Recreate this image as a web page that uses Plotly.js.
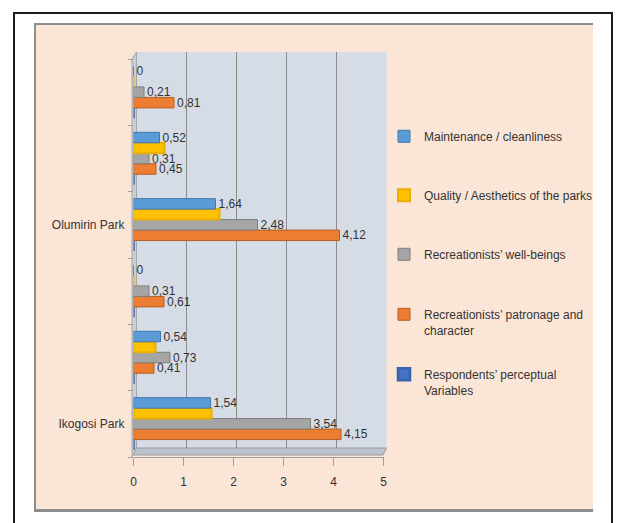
<!DOCTYPE html>
<html>
<head>
<meta charset="utf-8">
<script src="https://cdn.plot.ly/plotly-3.0.1.min.js"></script>
<style>
html,body{margin:0;padding:0;background:#fff;width:617px;height:523px;overflow:hidden}
#frame{position:absolute;left:13px;top:12px;width:596px;height:530px;border:2px solid #1a1a1a;}
#clip{position:absolute;left:34px;top:23px;width:557px;height:484px;overflow:hidden;border-top:2px solid #8e8e8e;border-left:2px solid #8e8e8e;border-bottom:3px solid #8e8e8e;background:#FBE5D6}
#chart{position:absolute;left:-36px;top:-25px;width:617px;height:523px}
</style>
</head>
<body>
<div id="frame"></div>
<div id="clip"><div id="chart"></div></div>
<script>
// ---- data (bottom category first) ----
const categories = ['Ikogosi Park', 'Row 2', 'Row 3', 'Olumirin Park', 'Row 5', 'Row 6'];
const tickLabels = ['Ikogosi Park', '', '', 'Olumirin Park', '', ''];

const maintenance = [1.54, 0.54, 0, 1.64, 0.52, 0];
const quality     = [1.56, 0.44, 0, 1.72, 0.62, 0];
const wellBeings  = [3.54, 0.73, 0.31, 2.48, 0.31, 0.21];
const patronage   = [4.15, 0.41, 0.61, 4.12, 0.45, 0.81];
const respondents = [0, 0, 0, 0, 0, 0];

const xTicks = [0, 1, 2, 3, 4, 5];

// ---- helpers ----
const W = 617, H = 523;
const fx = px => px / W;
const fy = py => (H - py) / H;
const fmt = v => (v === 0 ? '0' : v.toFixed(2).replace('.', ','));
const labels = (arr, show) => arr.map(v => (show ? fmt(v) : ''));

const font = 'Liberation Sans, Arial, sans-serif';
const txtColor = '#333333';

function bar(name, values, color, lineColor, lineW, showLabels, legendId) {
  return {
    type: 'bar', orientation: 'h',
    name: name, x: values, y: categories,
    xaxis: 'x2', yaxis: 'y2',
    marker: {color: color, line: {color: lineColor, width: lineW}},
    text: labels(values, showLabels),
    textposition: 'outside', constraintext: 'none', cliponaxis: false,
    textfont: {family: font, size: 12, color: txtColor},
    hoverinfo: 'none',
    legend: legendId
  };
}

// empty trace so that the back-wall subplot (gridlines) exists
const wall = {type: 'scatter', mode: 'markers', x: [], y: [], xaxis: 'x', yaxis: 'y',
              showlegend: false, hoverinfo: 'none'};

const data = [
  wall,
  bar('Respondents’ perceptual<br>Variables', respondents, '#4472C4', '#3A62AC', 2.5, false, 'legend5'),
  bar('Recreationists’ patronage and<br>character', patronage, '#ED7D31', '#B45F24', 1, true, 'legend4'),
  bar('Recreationists’ well-beings', wellBeings, '#A5A5A5', '#7E7E7E', 1, true, 'legend3'),
  bar('Quality / Aesthetics of the parks', quality, '#FFC000', '#E8AE00', 2, false, 'legend2'),
  bar('Maintenance / cleanliness', maintenance, '#5B9BD5', '#3F79AE', 1, true, 'legend')
];

function leg(py) {
  return {
    x: fx(384), xanchor: 'left', y: fy(py - 15), yanchor: 'top',
    bgcolor: 'rgba(0,0,0,0)', borderwidth: 0, valign: 'top',
    font: {family: font, size: 12, color: txtColor}
  };
}

const axisGray = '#a0a0a0';

const layout = {
  width: W, height: H,
  margin: {l: 0, r: 0, t: 0, b: 0},
  paper_bgcolor: '#FBE5D6',
  plot_bgcolor: 'rgba(0,0,0,0)',
  barmode: 'group', bargap: 0.21, bargroupgap: 0,
  showlegend: true,
  font: {family: font, size: 12, color: txtColor},
  xaxis: {
    domain: [fx(136.5), fx(386.5)], range: [0, 5], anchor: 'y',
    tickmode: 'array', tickvals: xTicks,
    showgrid: true, gridcolor: '#8c8c8c', gridwidth: 1.5,
    zeroline: false, showticklabels: false, ticks: '', showline: false, fixedrange: true
  },
  yaxis: {
    domain: [fy(448), fy(52)], range: [0, 1], anchor: 'x',
    showgrid: false, zeroline: false, showticklabels: false, ticks: '', fixedrange: true
  },
  xaxis2: {
    domain: [fx(133.5), fx(383.5)], range: [0, 5], anchor: 'y2',
    tickmode: 'array', tickvals: xTicks,
    showgrid: false, zeroline: false,
    showline: true, linecolor: axisGray, linewidth: 1,
    ticks: 'outside', ticklen: 8, tickcolor: axisGray, tickwidth: 1,
    ticklabelstandoff: 6,
    tickfont: {family: font, size: 12, color: txtColor}, fixedrange: true
  },
  yaxis2: {
    domain: [fy(457), fy(59)], anchor: 'x2', type: 'category',
    categoryorder: 'array', categoryarray: categories,
    tickmode: 'array', tickvals: categories, ticktext: tickLabels,
    tickson: 'boundaries', ticks: 'outside', ticklen: 5, tickcolor: axisGray,
    showline: false,
    showgrid: false, zeroline: false, ticklabelstandoff: 8,
    tickfont: {family: font, size: 12, color: txtColor}, fixedrange: true
  },
  shapes: [
    {type: 'rect', xref: 'x domain', yref: 'y domain', x0: 0, x1: 1, y0: 0, y1: 1,
     fillcolor: '#D6DCE5', line: {width: 0}, layer: 'below'},
    {type: 'path', xref: 'paper', yref: 'paper', layer: 'below',
     path: `M${fx(133)},${fy(455)} L${fx(383)},${fy(455)} L${fx(386.5)},${fy(448)} L${fx(136.5)},${fy(448)} Z`,
     fillcolor: '#BDC3CC', line: {color: '#9a9a9a', width: 1}},
    {type: 'path', xref: 'paper', yref: 'paper', layer: 'below',
     path: `M${fx(132)},${fy(457)} L${fx(136.5)},${fy(448)} L${fx(136.5)},${fy(52)} L${fx(132)},${fy(59)} Z`,
     fillcolor: '#C9CFD8', line: {color: '#a6a6a6', width: 1}}
  ],
  legend: leg(137),
  legend2: leg(196),
  legend3: leg(255),
  legend4: leg(315),
  legend5: leg(375)
};

Plotly.newPlot('chart', data, layout, {staticPlot: true, displayModeBar: false});
</script>
</body>
</html>
